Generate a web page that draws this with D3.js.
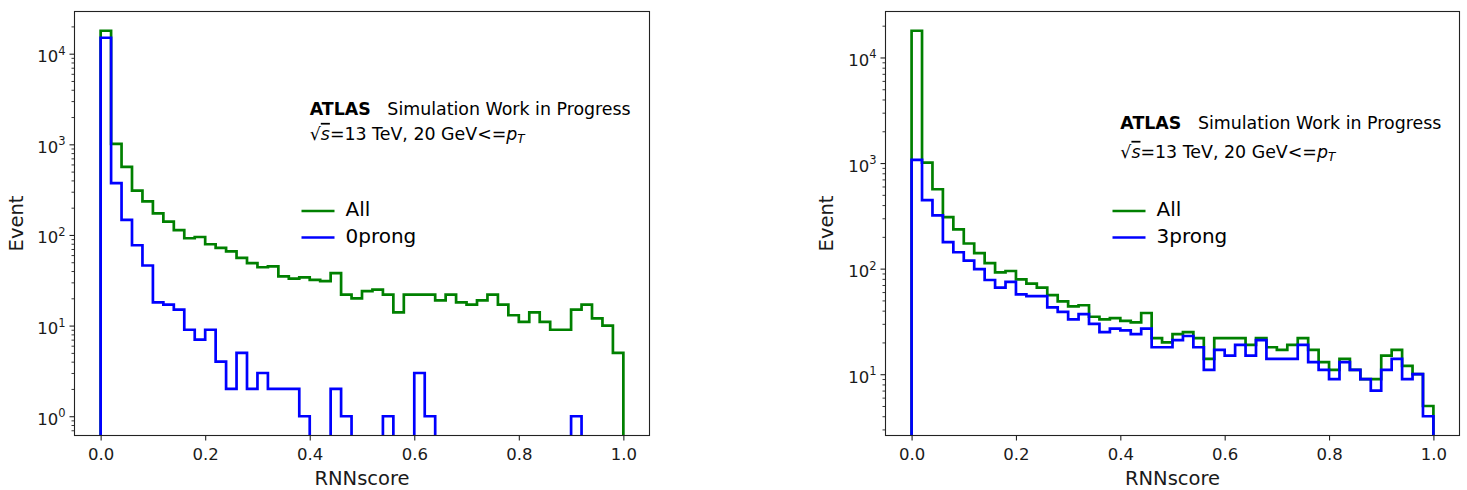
<!DOCTYPE html>
<html>
<head>
<meta charset="utf-8">
<script src="https://cdn.jsdelivr.net/npm/d3@7/dist/d3.min.js"></script>
<style>
  html, body { margin: 0; padding: 0; background: #fff; }
  svg { display: block; font-family: "DejaVu Sans", sans-serif; }
</style>
</head>
<body>
<svg id="chart" width="1467" height="490"></svg>
<script>
// RNN score distributions, 50 equal bins on [0, 1]
const scoreRange = [0, 1];
const allCounts = [17900, 1010, 565, 308, 235, 173, 140, 113, 92, 95,
                   79, 72, 66, 56, 49, 44, 45, 35, 33, 34,
                   32, 31, 38, 22, 20, 24, 25, 22, 14, 22,
                   22, 22, 19, 22, 18, 17, 19, 22, 17, 13,
                   11, 14, 11, 9, 9, 15, 17, 12, 10, 5];
const zeroProngCounts = [15000, 373, 147, 77, 46, 18, 17, 15, 9, 7,
                         9, 4, 2, 5, 2, 3, 2, 2, 2, 1,
                         0, 0, 2, 1, 0, 0, 0, 1, 0, 0,
                         3, 1, 0, 0, 0, 0, 0, 0, 0, 0,
                         0, 0, 0, 0, 0, 1, 0, 0, 0, 0];
const threeProngCounts = [1070, 445, 320, 178, 143, 119, 99, 78, 66, 75,
                          57, 55, 55, 43, 39, 33, 37, 30, 25, 27,
                          26, 24, 27, 18, 18, 21, 23, 18, 11, 17,
                          15, 19, 15, 21, 14, 14, 14, 19, 13, 11,
                          9, 13, 11, 9, 7, 11, 14, 9, 10, 4];
const xTicks = [0.0, 0.2, 0.4, 0.6, 0.8, 1.0];
const seriesNames = ["All", "0prong", "3prong"];
const seriesColors = ["#008000", "#0000ff", "#0000ff"];

const FONT = '"DejaVu Sans", sans-serif';
const svg = d3.select("#chart");

const panels = [
  { id: "p0", left: 74.5, right: 649.5, top: 11.5, bottom: 435.5, ylabelX: 23,
    series: [{ name: seriesNames[0], counts: allCounts, color: seriesColors[0] },
             { name: seriesNames[1], counts: zeroProngCounts, color: seriesColors[1] }] },
  { id: "p1", left: 885.5, right: 1459.5, top: 11.5, bottom: 435.5, ylabelX: 833,
    series: [{ name: seriesNames[0], counts: allCounts, color: seriesColors[0] },
             { name: seriesNames[2], counts: threeProngCounts, color: seriesColors[2] }] }
];

function drawPanel(p) {
  const g = svg.append("g");

  // x: data range with 5% margins on each side
  const span = scoreRange[1] - scoreRange[0];
  const x = d3.scaleLinear()
    .domain([scoreRange[0] - 0.05 * span, scoreRange[1] + 0.05 * span])
    .range([p.left, p.right]);

  // y: log scale spanning the positive counts, padded 5% in log space
  const positive = p.series.flatMap(s => s.counts).filter(v => v > 0);
  const lo = Math.log10(d3.min(positive)), hi = Math.log10(d3.max(positive));
  const pad = (hi - lo) * 0.05;
  const y = d3.scaleLog()
    .domain([Math.pow(10, lo - pad), Math.pow(10, hi + pad)])
    .range([p.bottom, p.top]);
  const floorVal = Math.pow(10, lo - pad - 1);

  g.append("clipPath").attr("id", "clip-" + p.id)
    .append("rect")
    .attr("x", p.left).attr("y", p.top)
    .attr("width", p.right - p.left).attr("height", p.bottom - p.top);

  // step outlines
  const line = d3.line().x(d => x(d[0])).y(d => y(d[1]));
  p.series.forEach(s => {
    const n = s.counts.length;
    const w = span / n;
    const pts = [[scoreRange[0], floorVal]];
    s.counts.forEach((c, i) => {
      const v = c > 0 ? c : floorVal;
      pts.push([scoreRange[0] + i * w, v]);
      pts.push([scoreRange[0] + (i + 1) * w, v]);
    });
    pts.push([scoreRange[1], floorVal]);
    g.append("path")
      .attr("clip-path", "url(#clip-" + p.id + ")")
      .attr("d", line(pts))
      .attr("fill", "none")
      .attr("stroke", s.color)
      .attr("stroke-width", 2.7)
      .attr("stroke-linejoin", "miter");
  });

  // x axis
  const xAxis = g.append("g")
    .attr("transform", `translate(0,${p.bottom})`)
    .call(d3.axisBottom(x).tickValues(xTicks).tickFormat(d3.format(".1f"))
      .tickSize(5).tickPadding(5).tickSizeOuter(0));
  xAxis.select(".domain").remove();
  xAxis.selectAll("line").attr("stroke", "#222").attr("stroke-width", 1.1);
  xAxis.selectAll("text").attr("font-family", FONT).attr("font-size", 16.5)
    .attr("fill", "#1a1a1a").attr("dy", null).attr("y", 24.5);

  // y axis: decades (major) and 2..9 multiples (minor)
  const [d0, d1] = y.domain();
  const majors = [], minors = [];
  for (let e = Math.floor(Math.log10(d0)); e <= Math.ceil(Math.log10(d1)); e++) {
    const b = Math.pow(10, e);
    if (b >= d0 && b <= d1) majors.push(e);
    for (let m = 2; m <= 9; m++) {
      const v = m * b;
      if (v >= d0 && v <= d1) minors.push(v);
    }
  }
  const yMinor = g.append("g")
    .attr("transform", `translate(${p.left},0)`)
    .call(d3.axisLeft(y).tickValues(minors).tickFormat("").tickSize(3).tickSizeOuter(0));
  yMinor.select(".domain").remove();
  yMinor.selectAll("line").attr("stroke", "#222").attr("stroke-width", 0.9);

  const yMajor = g.append("g")
    .attr("transform", `translate(${p.left},0)`)
    .call(d3.axisLeft(y).tickValues(majors.map(e => Math.pow(10, e))).tickFormat("")
      .tickSize(5).tickSizeOuter(0));
  yMajor.select(".domain").remove();
  yMajor.selectAll("line").attr("stroke", "#222").attr("stroke-width", 1.1);
  yMajor.selectAll(".tick").each(function (d) {
    const t = d3.select(this).append("text")
      .attr("x", -9).attr("y", 8)
      .attr("text-anchor", "end")
      .attr("font-family", FONT).attr("font-size", 16.5).attr("fill", "#1a1a1a");
    t.append("tspan").text("10");
    t.append("tspan").attr("font-size", 11.5).attr("dy", -7.5)
      .text(String(Math.round(Math.log10(d))));
  });

  // frame
  g.append("rect")
    .attr("x", p.left).attr("y", p.top)
    .attr("width", p.right - p.left).attr("height", p.bottom - p.top)
    .attr("fill", "none").attr("stroke", "#222").attr("stroke-width", 1.1);

  // axis titles
  g.append("text")
    .attr("x", x(0.5)).attr("y", 485)
    .attr("text-anchor", "middle")
    .attr("font-family", FONT).attr("font-size", 19.5).attr("fill", "#1a1a1a")
    .text("RNNscore");
  g.append("text")
    .attr("transform", `translate(${p.ylabelX},${(p.top + p.bottom) / 2}) rotate(-90)`)
    .attr("text-anchor", "middle")
    .attr("font-family", FONT).attr("font-size", 19.5).attr("fill", "#1a1a1a")
    .text("Event");

  // ATLAS label, anchored in data coordinates
  const tx = x(0.4);
  const l1 = g.append("text")
    .attr("x", tx).attr("y", y(2100))
    .attr("font-family", FONT).attr("font-size", 17.4).attr("fill", "#000");
  l1.append("tspan").attr("font-weight", "bold").text("ATLAS");
  l1.append("tspan").attr("xml:space", "preserve").text("   Simulation Work in Progress");

  const l2 = g.append("text")
    .attr("x", tx).attr("y", y(1120))
    .attr("font-family", FONT).attr("font-size", 17.4).attr("fill", "#000");
  l2.append("tspan").text("\u221A");
  l2.append("tspan").attr("font-style", "italic").attr("text-decoration", "overline").text("s");
  l2.append("tspan").text("=13 TeV, 20 GeV<=");
  l2.append("tspan").attr("font-style", "italic").text("p");
  l2.append("tspan").attr("font-style", "italic").attr("font-size", 12).attr("dy", 3.5).text("T");

  // legend
  const lgX = p.left + 227, lgY = 211, lgStep = 26.5;
  p.series.forEach((s, i) => {
    const yy = lgY + i * lgStep;
    g.append("line")
      .attr("x1", lgX).attr("x2", lgX + 33)
      .attr("y1", yy).attr("y2", yy)
      .attr("stroke", s.color).attr("stroke-width", 2.7);
    g.append("text")
      .attr("x", lgX + 44).attr("y", yy + 5)
      .attr("font-family", FONT).attr("font-size", 20).attr("fill", "#000")
      .text(s.name);
  });
}

panels.forEach(drawPanel);
</script>
</body>
</html>
